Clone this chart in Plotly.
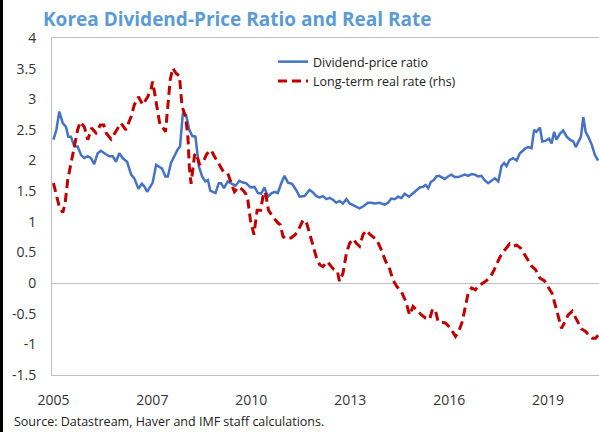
import plotly.graph_objects as go

# months since Jan 2005 (monthly data)
dp_month = [0, 1, 2, 3.2, 4.3, 5.1, 6, 7.2, 8.3, 9.5, 10.6, 11.8, 12.9, 14, 15.2, 16.3, 17.5, 19.2, 20.4,
            21.5, 22.6, 23.8, 25.3, 26.7, 27.8, 29.2, 30.4, 31.2, 32.2, 33.2, 34.1, 35.3, 36.4, 37.3, 38.5,
            39.3, 40.4, 41.6, 42.7, 43.5, 44.5, 45.6, 46.7, 47.7, 48.8, 50, 51.1, 52.2, 53.1, 53.9, 54.8,
            55.7, 56.8, 57.6, 58.6, 59.9, 61.4, 62.6, 63.9, 65.1, 66.2, 67.7, 69.1, 70.3, 71.4, 72.5, 73.7,
            74.8, 76, 77.1, 78.3, 79.4, 80.6, 82, 83.4, 84.6, 86.3, 88, 89.2, 90.3, 91.5, 92.6, 93.8, 94.9,
            96.1, 97.2, 98.3, 99.5, 100.7, 101.8, 103.5, 105.2, 106.4, 108.1, 109.3, 110.4, 112.1, 113.8,
            115, 116.1, 117.3, 118.4, 119.6, 120.7, 122.2, 123.6, 124.7, 125.9, 127, 127.9, 128.8, 129.7,
            130.7, 131.6, 132.5, 133.3, 134.5, 135.6, 136.8, 137.9, 139.1, 140.2, 141.4, 142.5, 143.7,
            144.8, 146, 147.1, 148.2, 149.4, 150.5, 151.7, 152.9, 154, 154.9, 155.7, 156.8, 158, 159.2,
            160.3, 161.3, 162.2, 163.2, 164.3, 165.2, 166, 167.2, 168, 169.1, 170.3, 171.2, 172.1, 172.9,
            174.1, 175.2, 176.4, 177.5, 178.7, 179.5, 180.4, 181.3, 182.1, 182.9, 183.8, 185, 186.1, 187.2]
dp_ratio = [2.34, 2.50, 2.80, 2.61, 2.55, 2.39, 2.39, 2.23, 2.23, 2.09, 2.04, 2.07, 2.04, 1.94, 2.12, 2.16,
            2.12, 2.07, 2.07, 1.98, 2.12, 2.04, 1.98, 1.77, 1.71, 1.54, 1.62, 1.58, 1.49, 1.57, 1.64, 1.93,
            1.90, 1.87, 1.74, 1.74, 1.96, 2.09, 2.18, 2.23, 2.78, 2.74, 2.50, 2.40, 2.39, 1.90, 1.74, 1.66,
            1.68, 1.51, 1.49, 1.47, 1.63, 1.63, 1.55, 1.66, 1.62, 1.59, 1.67, 1.64, 1.63, 1.56, 1.57, 1.47,
            1.46, 1.56, 1.41, 1.46, 1.49, 1.47, 1.63, 1.75, 1.64, 1.62, 1.52, 1.41, 1.42, 1.52, 1.48, 1.42,
            1.40, 1.42, 1.37, 1.39, 1.36, 1.31, 1.34, 1.30, 1.37, 1.30, 1.26, 1.22, 1.25, 1.31, 1.31, 1.30,
            1.31, 1.28, 1.31, 1.38, 1.37, 1.41, 1.39, 1.46, 1.41, 1.47, 1.51, 1.56, 1.57, 1.60, 1.55, 1.65,
            1.68, 1.74, 1.75, 1.73, 1.70, 1.74, 1.77, 1.73, 1.73, 1.75, 1.77, 1.75, 1.78, 1.77, 1.74, 1.75,
            1.68, 1.63, 1.67, 1.71, 1.66, 1.91, 1.96, 1.91, 2.01, 2.04, 2.00, 2.12, 2.16, 2.20, 2.22, 2.20,
            2.50, 2.47, 2.54, 2.31, 2.32, 2.36, 2.28, 2.47, 2.34, 2.44, 2.49, 2.39, 2.34, 2.31, 2.22, 2.31,
            2.39, 2.71, 2.47, 2.39, 2.26, 2.09, 2.00]

rr_month = [0, 0.9, 2, 3.2, 4, 4.9, 6, 7.2, 8.3, 9.2, 10.6, 11.8, 13.1, 14.6, 16.1, 17.3, 18.1, 19.8, 21.5,
            23.2, 24.9, 26.7, 27.8, 29.2, 30.7, 32.4, 33.6, 34.1, 35, 35.9, 36.6, 37.6, 38.5, 39.3, 40.1, 41,
            42.2, 43.3, 44.2, 45.4, 46.2, 46.7, 47.3, 48.5, 49, 50.2, 51.5, 52.7, 54.2, 55.3, 56.8, 58.4,
            59.9, 61.1, 62.2, 63.7, 65.1, 66.2, 66.8, 67.7, 68.9, 70, 71.2, 72, 72.8, 73.9, 75.4, 77.2, 78,
            78.9, 80, 81.7, 83.1, 84.2, 85.8, 86.9, 88, 89.2, 90.3, 91.5, 92.6, 94.1, 94.9, 96.4, 97.6, 98.3,
            99.5, 100.7, 101.8, 103, 104.1, 105.2, 106.4, 107.5, 108.7, 110.1, 111.2, 112.7, 114.2, 115.3,
            116.7, 118.1, 119.6, 121.1, 122.4, 123.6, 124.7, 126.5, 127.9, 129.3, 130.3, 131.4, 132.2,
            133.3, 134.7, 136.2, 137.4, 138.2, 139.3, 140.5, 141.6, 142.5, 143.7, 145, 146.2, 147.3, 148.8,
            150.3, 151.5, 152.6, 153.4, 154.6, 155.7, 156.8, 158, 159.2, 160.6, 162.6, 164.3, 165.7, 167.2,
            168.7, 170.1, 171.4, 172.3, 173.5, 174.6, 175.8, 176.9, 178.3, 179.2, 180.4, 181.5, 182.9, 184,
            185.2, 186.3, 187.2]
real_rate = [1.63, 1.47, 1.25, 1.15, 1.30, 1.68, 1.96, 2.23, 2.50, 2.63, 2.55, 2.34, 2.53, 2.45, 2.58, 2.58,
             2.45, 2.35, 2.47, 2.61, 2.50, 2.72, 2.91, 3.04, 2.91, 3.04, 3.18, 3.29, 3.04, 2.77, 2.58, 2.54,
             2.47, 2.88, 3.31, 3.51, 3.42, 3.38, 2.88, 2.72, 2.39, 1.90, 1.62, 2.09, 2.12, 1.94, 1.98, 2.11,
             2.17, 2.07, 1.94, 1.82, 1.79, 1.63, 1.49, 1.57, 1.52, 1.45, 1.36, 1.03, 0.79, 1.19, 1.19, 1.41,
             1.49, 1.19, 1.08, 0.98, 0.95, 0.76, 0.72, 0.74, 0.79, 0.87, 1.03, 1.00, 0.81, 0.60, 0.43, 0.30,
             0.27, 0.35, 0.30, 0.22, 0.19, 0.03, 0.16, 0.49, 0.65, 0.72, 0.65, 0.60, 0.79, 0.86, 0.80, 0.74,
             0.70, 0.54, 0.35, 0.27, 0.05, -0.06, -0.14, -0.30, -0.52, -0.38, -0.44, -0.52, -0.57, -0.59,
             -0.42, -0.47, -0.63, -0.64, -0.65, -0.72, -0.82, -0.87, -0.79, -0.63, -0.38, -0.17, -0.08,
             -0.11, -0.03, -0.01, 0.04, 0.11, 0.22, 0.34, 0.42, 0.51, 0.57, 0.64, 0.60, 0.62, 0.57, 0.41,
             0.28, 0.22, 0.08, 0.04, -0.06, -0.17, -0.33, -0.55, -0.74, -0.63, -0.52, -0.46, -0.55, -0.65,
             -0.75, -0.79, -0.85, -0.90, -0.90, -0.85]

year_ticks = [0, 34, 68, 102, 136, 170]
year_labels = ["2005", "2007", "2010", "2013", "2016", "2019"]
y_ticks = [-1.5, -1, -0.5, 0, 0.5, 1, 1.5, 2, 2.5, 3, 3.5, 4]
y_labels = ["-1.5", "-1", "-0.5", "0", "0.5", "1", "1.5", "2", "2.5", "3", "3.5", "4"]

FONT = "Open Sans"
W, H = 599, 432
L, T, B = 52, 38, 57
pw, ph = W - L, H - T - B

fig = go.Figure()
fig.add_trace(go.Scatter(x=dp_month, y=dp_ratio, mode="lines", name="Dividend-price ratio",
                         line=dict(color="#4472C4", width=2.5)))
fig.add_trace(go.Scatter(x=rr_month, y=real_rate, mode="lines", name="Long-term real rate (rhs)",
                         line=dict(color="#C00000", width=3, dash="9px,5px")))

fig.update_xaxes(range=[-0.5, 187.5], tickvals=year_ticks, ticktext=year_labels, showgrid=False,
                 zeroline=False, showline=True, mirror=True, linecolor="#BFBFBF", linewidth=1,
                 automargin=False, ticks="", ticklabelstandoff=12,
                 tickfont=dict(family=FONT, size=14, color="#333"))
fig.update_yaxes(range=[-1.5, 4], tickvals=y_ticks, ticktext=y_labels, showgrid=False,
                 zeroline=True, zerolinecolor="#BFBFBF", zerolinewidth=1,
                 showline=True, linecolor="#BFBFBF", linewidth=1,
                 automargin=False, ticks="", ticklabelstandoff=12,
                 tickfont=dict(family=FONT, size=14, color="#333"))

# black frame edge on the left of the picture
fig.add_shape(type="line", xref="paper", yref="paper", x0=-(L - 1.5) / pw, x1=-(L - 1.5) / pw,
              y0=-B / ph, y1=1 + T / ph, line=dict(color="black", width=3), layer="above")

fig.add_annotation(xref="paper", yref="paper", x=-(L - 12) / pw, y=-(421 - (H - B)) / ph,
                   xanchor="left", yanchor="middle", showarrow=False,
                   text="Source: Datastream, Haver and IMF staff calculations.",
                   font=dict(family=FONT, size=12.5, color="#222"))

fig.update_layout(
    width=W, height=H,
    margin=dict(l=L, r=0, t=T, b=B),
    paper_bgcolor="white", plot_bgcolor="white",
    title=dict(text="<b>Korea Dividend-Price Ratio and Real Rate</b>", xref="container", yref="container",
               x=43 / W, xanchor="left", y=1 - 19 / H, yanchor="middle",
               font=dict(family=FONT, size=19, color="#5B9BD5")),
    legend=dict(x=(273 - L) / pw, xanchor="left", y=1 - (47 - T) / ph, yanchor="top",
                bgcolor="rgba(0,0,0,0)", tracegroupgap=0, itemwidth=30,
                font=dict(family=FONT, size=12.5, color="#222")),
    showlegend=True,
)

fig.write_html("out.html", config={"displayModeBar": False},
               post_script="document.body.style.margin='0';")
